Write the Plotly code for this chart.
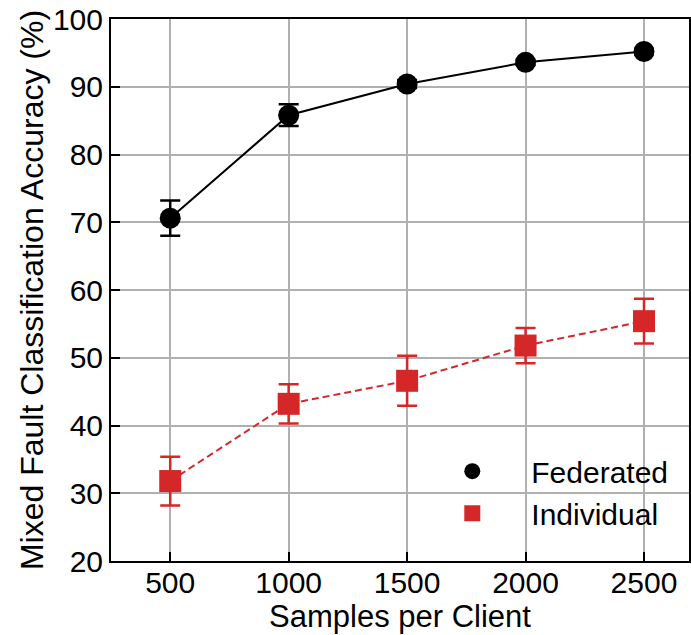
import plotly.graph_objects as go

samples = [500, 1000, 1500, 2000, 2500]
fed_acc = [70.6, 85.8, 90.4, 93.6, 95.2]
fed_err = [2.6, 1.6, 0.6, 0.4, 0.4]
ind_acc = [31.8, 43.2, 46.6, 51.8, 55.4]
ind_err = [3.6, 2.9, 3.7, 2.6, 3.3]
xticks = [500, 1000, 1500, 2000, 2500]
yticks = [20, 30, 40, 50, 60, 70, 80, 90, 100]

RED = "#d62728"
FONT = "Liberation Sans, Arial, sans-serif"

fig = go.Figure()
fig.add_trace(go.Scatter(
    x=samples, y=fed_acc, mode="lines+markers", showlegend=False,
    line=dict(color="black", width=2),
    marker=dict(symbol="circle", size=21, color="black"),
    error_y=dict(type="data", array=fed_err, color="black", thickness=2.5, width=10),
))
fig.add_trace(go.Scatter(
    x=samples, y=ind_acc, mode="lines+markers", showlegend=False,
    line=dict(color=RED, width=2, dash="7px,4px"),
    marker=dict(symbol="square", size=22, color=RED),
    error_y=dict(type="data", array=ind_err, color=RED, thickness=2.5, width=10),
))
# legend entries (markers only, like the reference)
fig.add_trace(go.Scatter(x=[None], y=[None], mode="markers", name="Federated",
                         marker=dict(symbol="circle", size=21, color="black"),
                         legendgroup="a"))
fig.add_trace(go.Scatter(x=[None], y=[None], mode="markers", name="Individual",
                         marker=dict(symbol="square", size=22, color=RED),
                         legendgroup="b"))

fig.update_layout(
    width=691, height=635,
    margin=dict(l=111, r=0, t=19, b=74),
    plot_bgcolor="white", paper_bgcolor="white",
    font=dict(family=FONT, size=30, color="black"),
    legend=dict(x=0.523, y=0.127, xanchor="left", yanchor="middle",
                bgcolor="rgba(0,0,0,0)", font=dict(size=30),
                tracegroupgap=0, itemwidth=108),
)
fig.update_xaxes(
    range=[250, 2690], tickvals=xticks, ticktext=[str(v) for v in xticks],
    showline=True, linecolor="black", linewidth=2, mirror=True,
    ticks="inside", ticklen=9, tickwidth=1.5, tickcolor="black",
    ticklabelstandoff=-6,
    showgrid=True, gridcolor="#b0b0b0", gridwidth=1.5, zeroline=False,
    title=dict(text="Samples per Client", font=dict(size=31), standoff=4),
)
fig.update_yaxes(
    range=[20, 100], tickvals=yticks, ticktext=[str(v) for v in yticks],
    showline=True, linecolor="black", linewidth=2, mirror=True,
    ticks="inside", ticklen=9, tickwidth=1.5, tickcolor="black",
    showgrid=True, gridcolor="#b0b0b0", gridwidth=1.5, zeroline=False,
    title=dict(text="Mixed Fault Classification Accuracy (%)", font=dict(size=32), standoff=0),
)

fig.write_html("out.html")
